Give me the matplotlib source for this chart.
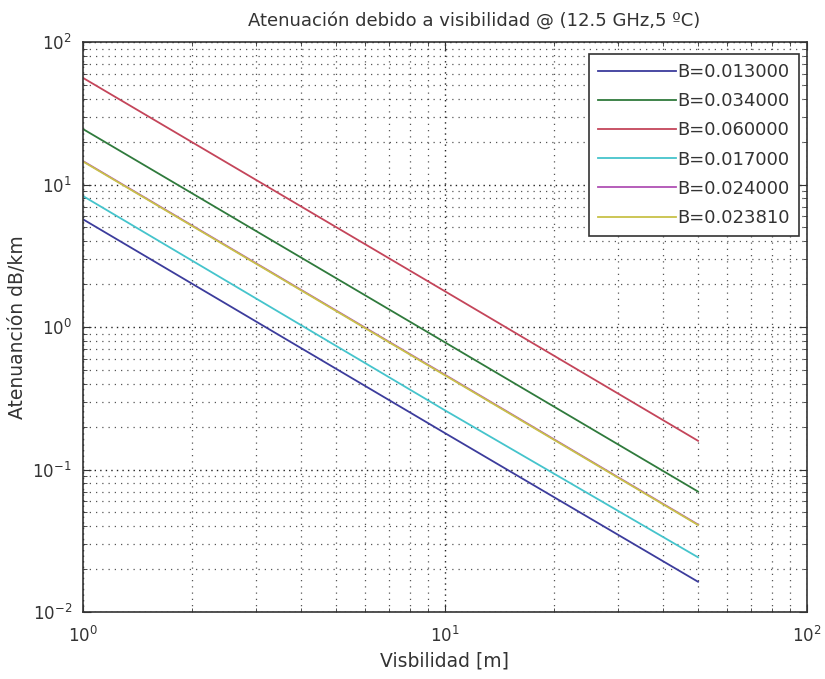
import matplotlib
matplotlib.use('Agg')
import matplotlib.pyplot as plt
from matplotlib.ticker import LogLocator, NullFormatter

plt.rcParams['font.family'] = ['DejaVu Sans']
plt.rcParams['font.size'] = 13

# visibility [m] and attenuation dB/km (straight lines on log-log)
vis = [1, 10, 50]
labels = ['B=0.013000', 'B=0.034000', 'B=0.060000', 'B=0.017000', 'B=0.024000', 'B=0.023810']
att_013 = [5.7, 0.18, 0.0163]
att_034 = [24.5, 0.78, 0.070]
att_060 = [56.0, 1.78, 0.159]
att_017 = [8.3, 0.26, 0.0242]
att_024 = [14.6, 0.462, 0.0411]
att_02381 = [14.5, 0.458, 0.0408]
series = [att_013, att_034, att_060, att_017, att_024, att_02381]
colors = ['#3c3c9c', '#2f7a3c', '#c4455a', '#45c4cc', '#b050b4', '#c8c248']

fig = plt.figure(figsize=(8.25, 6.79), dpi=100)
ax = fig.add_axes([83 / 825, 1 - 612 / 679, 724 / 825, 570 / 679])

for y, c, lab in zip(series, colors, labels):
    ax.plot(vis, y, color=c, lw=1.3, label=lab)

ax.set_xscale('log')
ax.set_yscale('log')
ax.set_xlim(1, 100)
ax.set_ylim(0.01, 100)
ax.xaxis.set_minor_locator(LogLocator(base=10, subs=range(2, 10)))
ax.yaxis.set_minor_locator(LogLocator(base=10, subs=range(2, 10)))
ax.xaxis.set_minor_formatter(NullFormatter())
ax.yaxis.set_minor_formatter(NullFormatter())

ax.grid(True, which='major', ls=(0, (1, 3)), color='#222222', lw=1.0)
ax.grid(True, which='minor', ls=(0, (1, 4)), color='#555555', lw=0.9)
ax.tick_params(which='both', direction='in', top=True, right=True, labelsize=12,
               colors='#333333')
ax.tick_params(which='major', length=6)
ax.tick_params(which='minor', length=3)
ax.tick_params(axis='x', which='major', pad=10)
ax.tick_params(axis='y', which='major', pad=8)
for s in ax.spines.values():
    s.set_linewidth(1.2)
    s.set_color('#333333')

ax.set_title('Atenuación debido a visibilidad @ (12.5 GHz,5 ºC)', fontsize=13,
             color='#333333', pad=12, x=0.54)
ax.set_xlabel('Visbilidad [m]', fontsize=13.5, color='#333333', labelpad=4)
ax.set_ylabel('Atenuanción dB/km', fontsize=13.5, color='#333333', labelpad=4)

leg = ax.legend(loc='upper right', bbox_to_anchor=(0.989, 0.979), borderaxespad=0,
                fontsize=13, handlelength=4.3, handletextpad=0.1,
                labelspacing=0.62, fancybox=False, framealpha=1,
                edgecolor='#333333', borderpad=0.5)
leg.get_frame().set_linewidth(1.2)
for t in leg.get_texts():
    t.set_color('#333333')

fig.savefig('out.png', dpi=100)
